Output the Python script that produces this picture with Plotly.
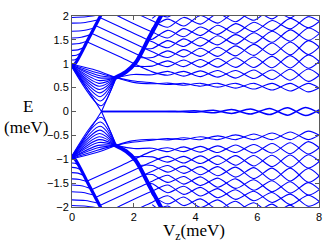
import plotly.graph_objects as go

# ---------------- data (E > 0 half; E < 0 half is its mirror) ----------------
# oscillating rows: positions of the extrema along Vz and upper / lower envelope values there
osc_v = [2.6, 3.1, 3.62, 4.16, 4.72, 5.3, 5.89, 6.48, 7.07, 7.66, 8.25]

rowF_hi = [0.60, 0.595, 0.59, 0.59, 0.59, 0.59, 0.59, 0.59, 0.59, 0.59, 0.59]
rowF_lo = [0.58, 0.565, 0.55, 0.53, 0.51, 0.49, 0.47, 0.45, 0.43, 0.41, 0.39]
rowE_hi = [0.83, 0.84, 0.84, 0.85, 0.86, 0.86, 0.87, 0.87, 0.885, 0.89, 0.90]
rowE_lo = [0.77, 0.76, 0.74, 0.73, 0.72, 0.70, 0.69, 0.67, 0.655, 0.63, 0.62]
rowD_hi = [1.05, 1.06, 1.08, 1.09, 1.11, 1.125, 1.14, 1.155, 1.17, 1.185, 1.20]
rowD_lo = [0.95, 0.94, 0.94, 0.93, 0.93, 0.925, 0.92, 0.915, 0.91, 0.905, 0.90]
rowC_hi = [1.25, 1.27, 1.295, 1.325, 1.345, 1.375, 1.405, 1.435, 1.455, 1.485, 1.515]
rowC_lo = [1.13, 1.13, 1.145, 1.155, 1.155, 1.165, 1.175, 1.185, 1.185, 1.195, 1.205]
rowB_hi = [1.46, 1.485, 1.52, 1.55, 1.585, 1.61, 1.65, 1.68, 1.71, 1.75, 1.78]
rowB_lo = [1.32, 1.335, 1.36, 1.37, 1.395, 1.41, 1.43, 1.45, 1.47, 1.49, 1.51]
rowA_hi = [1.665, 1.70, 1.735, 1.77, 1.805, 1.84, 1.87, 1.905, 1.95, 1.985, 2.02]
rowA_lo = [1.515, 1.54, 1.565, 1.59, 1.615, 1.64, 1.67, 1.695, 1.73, 1.755, 1.78]
rowA2_hi = [1.90, 1.935, 1.97, 2.01, 2.05, 2.08, 2.13, 2.16, 2.20, 2.24, 2.28]
rowA2_lo = [1.74, 1.765, 1.79, 1.83, 1.85, 1.88, 1.91, 1.94, 1.96, 2.00, 2.02]
rowA3_hi = [2.11, 2.15, 2.20, 2.25, 2.29, 2.34, 2.38, 2.43, 2.47, 2.52, 2.56]
rowA3_lo = [1.95, 1.98, 2.02, 2.06, 2.09, 2.13, 2.17, 2.20, 2.24, 2.28, 2.32]

# lead-in points of the two branches of each row (Vz list, E list)
leadF1 = ([1.42, 1.95], [0.71, 0.645]); leadF2 = ([1.42, 1.95], [0.71, 0.615])
leadE1 = ([0.48, 1.55], [1.46, 1.145]); leadE2 = ([1.42, 2.0], [0.71, 0.775])
leadD1 = ([0.63, 1.6], [1.64, 1.35]);   leadD2 = ([1.95], [0.95])
leadC1 = ([0.76, 1.6], [1.80, 1.55]);   leadC2 = ([2.15], [1.13])
leadB1 = ([0.90, 1.6], [1.97, 1.76]);   leadB2 = ([2.31], [1.32])
leadA1 = ([1.0, 1.6], [2.165, 1.965]);  leadA2 = ([2.47], [1.515])
leadA21 = ([1.6, 2.1], [2.2, 2.05]);    leadA22 = ([2.55], [1.61])
leadA31 = ([2.2], [2.25]);              leadA32 = ([], [])

# U-shaped family leaving the gap edge at Vz = 0 and converging near Vz ~ 1.4
u_start = [0.99, 0.98, 0.97, 0.97, 0.96, 0.96, 0.95, 0.95, 0.94, 0.94, 0.93, 0.93]
u_min_v = [0.80, 0.82, 0.84, 0.85, 0.86, 0.87, 0.88, 0.89, 0.90, 0.91, 0.92, 0.94]
u_min_e = [0.86, 0.81, 0.76, 0.71, 0.65, 0.59, 0.53, 0.46, 0.39, 0.31, 0.22, 0.12]
conv_v, conv_e = 1.42, 0.71

# gap-closing V line
vline_v = [0.0, 0.955, 1.44]
vline_e = [0.97, 0.0, 0.71]

# Majorana zero mode (oscillating) after the gap closing
zero_v = [0.955, 3.0, 3.35, 3.97, 4.58, 5.17, 5.78, 6.4, 6.98, 7.57, 8.15]
zero_e = [0.0, 0.0, -0.006, 0.015, -0.028, 0.04, -0.053, 0.065, -0.076, 0.086, -0.096]

# the two bunched (thick) lines
thick1_v = [0.0, 0.1, 0.5, 0.92, 1.0]
thick1_e = [0.96, 1.0, 1.48, 2.0, 2.1]
thick2_v = [1.38, 1.75, 2.07, 2.5, 2.92, 3.0]
thick2_e = [0.70, 0.83, 1.03, 1.55, 2.05, 2.15]

# levels starting above the gap at Vz = 0 and bending into the first thick line
lev_e0 = [1.08, 1.17, 1.28, 1.41, 1.54, 1.68, 1.85, 1.97]
lev_mid_v = [0.10, 0.14, 0.19, 0.24, 0.30, 0.36, 0.43, 0.47]
lev_mid_e = [1.085, 1.18, 1.29, 1.425, 1.555, 1.695, 1.865, 1.985]
lev_end_v = [0.20, 0.28, 0.38, 0.485, 0.60, 0.715, 0.855, 0.94]
lev_end_e = [1.12, 1.22, 1.34, 1.47, 1.61, 1.75, 1.92, 2.03]

# ---------------- figure ----------------
BLUE = '#0000ff'
fig = go.Figure()


def add(xs, ys, width=1.1, shape='spline'):
    for sgn in (1, -1):
        fig.add_trace(go.Scatter(
            x=list(xs), y=[sgn * v for v in ys], mode='lines',
            line=dict(color=BLUE, width=width, shape=shape, smoothing=0.8),
            hoverinfo='skip', showlegend=False))


rows = [
    (rowF_hi, rowF_lo, leadF1, leadF2),
    (rowE_hi, rowE_lo, leadE1, leadE2),
    (rowD_hi, rowD_lo, leadD1, leadD2),
    (rowC_hi, rowC_lo, leadC1, leadC2),
    (rowB_hi, rowB_lo, leadB1, leadB2),
    (rowA_hi, rowA_lo, leadA1, leadA2),
    (rowA2_hi, rowA2_lo, leadA21, leadA22),
    (rowA3_hi, rowA3_lo, leadA31, leadA32),
]
for hi, lo, l1, l2 in rows:
    c1 = [hi[k] if k % 2 == 0 else lo[k] for k in range(len(osc_v))]
    c2 = [lo[k] if k % 2 == 0 else hi[k] for k in range(len(osc_v))]
    add(l1[0] + osc_v, l1[1] + c1)
    add(l2[0] + osc_v, l2[1] + c2)

for s, mv, me in zip(u_start, u_min_v, u_min_e):
    add([0.0, mv, conv_v], [s, me, conv_e])

add(vline_v, vline_e, shape='linear')
add(zero_v, zero_e, width=1.5)

for e0, mv, me, ev, ee in zip(lev_e0, lev_mid_v, lev_mid_e, lev_end_v, lev_end_e):
    add([0.0, mv, ev], [e0, me, ee])

add(thick1_v, thick1_e, width=3.2)
add(thick2_v, thick2_e, width=4.0)

axis_col = '#5a5a5a'
tickfont = dict(family='Liberation Sans, Arial, sans-serif', size=11, color='black')
fig.update_layout(
    width=332, height=242,
    margin=dict(l=72, r=10, t=11, b=35),
    paper_bgcolor='white', plot_bgcolor='white',
    showlegend=False,
    xaxis=dict(range=[0, 8], tickvals=[0, 2, 4, 6, 8], ticktext=['0', '2', '4', '6', '8'],
               ticks='inside', ticklen=4, tickcolor=axis_col, showline=True, linecolor=axis_col,
               linewidth=1, mirror='ticks', showgrid=False, zeroline=False, tickfont=tickfont),
    yaxis=dict(range=[-2, 2],
               tickvals=[-2, -1.5, -1, -0.5, 0, 0.5, 1, 1.5, 2],
               ticktext=['\u22122', '\u22121.5', '\u22121', '\u22120.5', '0', '0.5', '1', '1.5', '2'],
               ticks='inside', ticklen=4, tickcolor=axis_col, showline=True, linecolor=axis_col,
               linewidth=1, mirror='ticks', showgrid=False, zeroline=False, tickfont=tickfont),
)

serif = dict(family='Liberation Serif, Times New Roman, serif', size=17, color='black')
fig.add_annotation(text='E', x=-0.18, y=0.525, xref='paper', yref='paper',
                   showarrow=False, xanchor='center', yanchor='middle', font=serif)
fig.add_annotation(text='(meV)', x=-0.188, y=0.418, xref='paper', yref='paper',
                   showarrow=False, xanchor='center', yanchor='middle', font=serif)
fig.add_annotation(text='V<sub>z</sub>(meV)', x=0.495, y=-0.131, xref='paper', yref='paper',
                   showarrow=False, xanchor='center', yanchor='middle', font=serif)

# remove the browser's default 8 px body margin so the figure fills the window exactly
fig.write_html('out.html', config={'displayModeBar': False},
               post_script="document.body.style.margin='0px';")
